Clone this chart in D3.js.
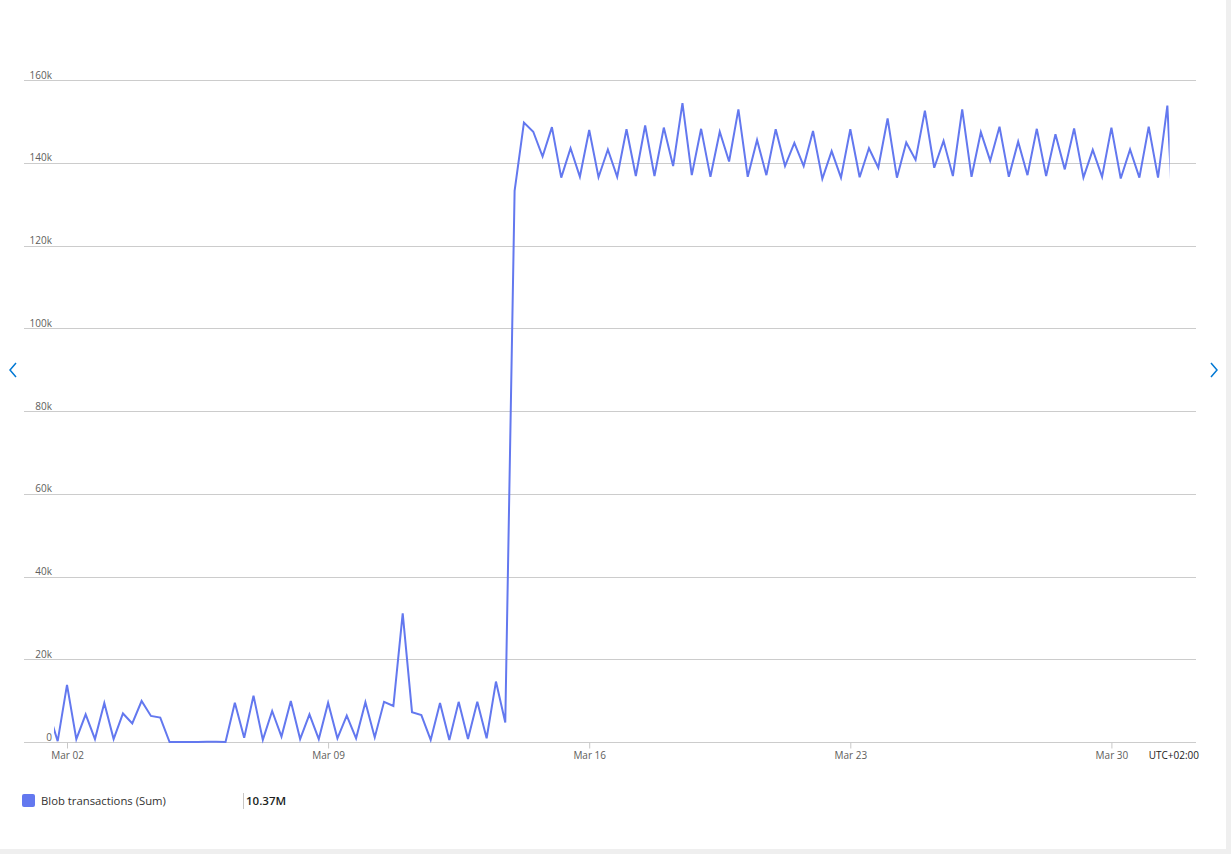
<!DOCTYPE html>
<html>
<head>
<meta charset="utf-8">
<script src="https://cdn.jsdelivr.net/npm/d3@7"></script>
<style>
  html, body { margin: 0; padding: 0; background: #fff; }
  body { width: 1231px; height: 854px; overflow: hidden; font-family: "Open Sans", "Noto Sans", sans-serif; }
</style>
</head>
<body>
<svg id="chart" width="1231" height="854"></svg>
<script>
// ---- data (6-hour buckets, first bucket Mar 01 12:00 local) ----
const seriesName = "Blob transactions (Sum)";
const seriesTotal = "10.37M";
const timezoneLabel = "UTC+02:00";
const startTime = "2024-03-01T12:00:00Z";
const stepHours = 6;
const values = [
  7500, 200, 13800, 700, 6700, 700, 9400, 700, 6900, 4500,
  9900, 6300, 5900, 0, 0, 0, 0, 50, 50, 0,
  9500, 1000, 11200, 500, 7500, 1300, 9900, 700, 6700, 700,
  9500, 900, 6400, 900, 9600, 1100, 9700, 8700, 31100, 7200,
  6500, 500, 9400, 500, 9700, 700, 9700, 900, 14600, 4700,
  133200, 149700, 147500, 141500, 148600, 136400, 143500, 136600, 147900, 136500,
  143200, 136600, 148100, 136800, 149000, 136800, 148500, 139200, 154400, 137000,
  148200, 136600, 147500, 140300, 152900, 136600, 145500, 137000, 148100, 139200,
  144800, 139200, 147700, 136100, 142800, 136400, 148100, 136500, 143500, 138800,
  150700, 136400, 144900, 140700, 152600, 138800, 145300, 136800, 152900, 136600,
  147400, 140500, 148700, 136600, 145100, 137000, 148200, 136800, 146900, 138400,
  148300, 136400, 143100, 136600, 148500, 136200, 143200, 136400, 148700, 136400,
  153800, 108000
];
const yTicks = [0, 20000, 40000, 60000, 80000, 100000, 120000, 140000, 160000];
const yTickLabels = ["0", "20k", "40k", "60k", "80k", "100k", "120k", "140k", "160k"];
const xTicks = ["2024-03-02T00:00:00Z", "2024-03-09T00:00:00Z", "2024-03-16T00:00:00Z", "2024-03-23T00:00:00Z", "2024-03-30T00:00:00Z"];
const xTickLabels = ["Mar 02", "Mar 09", "Mar 16", "Mar 23", "Mar 30"];
const xDomain = ["2024-03-01T15:38:00Z", "2024-03-31T13:42:00Z"];

// ---- build ----
const t0 = new Date(startTime).getTime();
const data = values.map((v, i) => ({ t: new Date(t0 + i * stepHours * 3600e3), v }));

const svg = d3.select("#chart");
const lineColor = "#6378ef";

// card edges
svg.append("rect").attr("x", 0).attr("y", 0).attr("width", 1231).attr("height", 854).attr("fill", "#ffffff");
svg.append("rect").attr("x", 1226).attr("y", 0).attr("width", 5).attr("height", 854).attr("fill", "#efefef");
svg.append("rect").attr("x", 0).attr("y", 849).attr("width", 1231).attr("height", 5).attr("fill", "#efefef");

const x = d3.scaleUtc().domain(xDomain.map(d => new Date(d))).range([54, 1170]);
const y = d3.scaleLinear().domain([0, 160000]).range([742, 80]);

// gridlines
const grid = svg.append("g");
grid.selectAll("line").data(yTicks).join("line")
  .attr("x1", 24).attr("x2", 1196)
  .attr("y1", d => Math.round(y(d)) + 0.5).attr("y2", d => Math.round(y(d)) + 0.5)
  .attr("stroke", "#cccccc").attr("stroke-width", 1);

// y labels
svg.append("g").selectAll("text").data(yTicks).join("text")
  .attr("x", 52).attr("y", d => y(d) - 1.5)
  .attr("text-anchor", "end")
  .attr("font-size", 10).attr("fill", "#605e5c")
  .text((d, i) => yTickLabels[i]);

// x axis
const xAxis = d3.axisBottom(x)
  .tickValues(xTicks.map(d => new Date(d)))
  .tickFormat((d, i) => xTickLabels[i])
  .tickSize(6).tickSizeOuter(0);
const gx = svg.append("g").attr("transform", "translate(0,742.5)").call(xAxis);
gx.select(".domain").remove();
gx.selectAll(".tick line").attr("stroke", "#c8c8c8");
gx.selectAll(".tick text").attr("font-size", 10).attr("fill", "#605e5c")
  .attr("font-family", "Open Sans, sans-serif").attr("dy", "0.71em");

svg.append("text").attr("x", 1199).attr("y", 759).attr("text-anchor", "end")
  .attr("font-size", 10).attr("fill", "#1b1a19").text(timezoneLabel);

// clip + line
svg.append("clipPath").attr("id", "clip").append("rect")
  .attr("x", 54).attr("y", 0).attr("width", 1169.6 - 54).attr("height", 760);
const line = d3.line().x(d => x(d.t)).y(d => y(d.v));
svg.append("path").datum(data)
  .attr("clip-path", "url(#clip)")
  .attr("d", line)
  .attr("fill", "none").attr("stroke", lineColor).attr("stroke-width", 2)
  .attr("stroke-linejoin", "miter");

// nav arrows
svg.append("path").attr("d", "M16,363 L10,370 L16,377").attr("fill", "none")
  .attr("stroke", "#0078d4").attr("stroke-width", 1.5);
svg.append("path").attr("d", "M1211,363 L1217,370 L1211,377").attr("fill", "none")
  .attr("stroke", "#0078d4").attr("stroke-width", 1.5);

// legend
const lg = svg.append("g");
lg.append("rect").attr("x", 22).attr("y", 794).attr("width", 13).attr("height", 13)
  .attr("rx", 2).attr("fill", lineColor);
lg.append("text").attr("x", 41).attr("y", 805).attr("font-size", 11.3).attr("fill", "#323130")
  .text(seriesName);
lg.append("line").attr("x1", 243.5).attr("x2", 243.5).attr("y1", 793).attr("y2", 809)
  .attr("stroke", "#c8c6c4").attr("stroke-width", 1);
lg.append("text").attr("x", 246).attr("y", 805).attr("font-size", 11.5).attr("font-weight", 600)
  .attr("fill", "#201f1e").text(seriesTotal);
</script>
</body>
</html>
